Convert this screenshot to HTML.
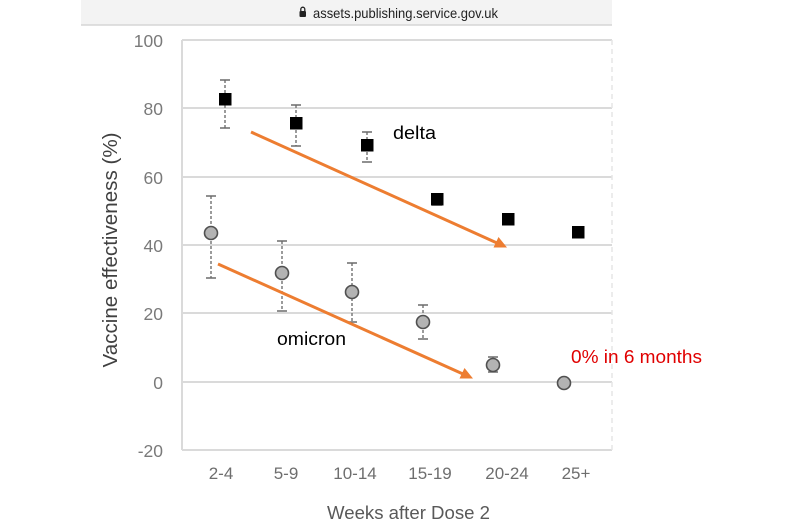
<!DOCTYPE html>
<html>
<head>
<meta charset="utf-8">
<style>
  html, body { margin: 0; padding: 0; background: #ffffff; }
  body { width: 785px; height: 527px; overflow: hidden; }
  svg { display: block; }
  text { font-family: "Liberation Sans", "DejaVu Sans", sans-serif; }
</style>
</head>
<body>
<svg width="785" height="527" viewBox="0 0 785 527" xmlns="http://www.w3.org/2000/svg">
  <!-- browser url bar -->
  <rect x="81" y="0" width="531" height="25" fill="#f3f3f3"/>
  <line x1="81" y1="25" x2="612" y2="25" stroke="#d6d6d6" stroke-width="1.5"/>
  <!-- lock icon -->
  <rect x="299.5" y="11" width="6.5" height="6" rx="1" fill="#222"/>
  <path d="M300.8 11 V9.2 a2 2 0 0 1 4 0 V11" fill="none" stroke="#222" stroke-width="1.3"/>
  <text x="313" y="18" font-size="14" fill="#222" textLength="185" lengthAdjust="spacingAndGlyphs">assets.publishing.service.gov.uk</text>

  <!-- gridlines -->
  <g stroke="#dadada" stroke-width="2">
    <line x1="182" y1="40" x2="612" y2="40"/>
    <line x1="182" y1="108" x2="612" y2="108"/>
    <line x1="182" y1="177" x2="612" y2="177"/>
    <line x1="182" y1="245" x2="612" y2="245"/>
    <line x1="182" y1="313" x2="612" y2="313"/>
    <line x1="182" y1="382" x2="612" y2="382"/>
    <line x1="182" y1="450" x2="612" y2="450"/>
    <line x1="182" y1="40" x2="182" y2="450"/>
  </g>
  <line x1="612" y1="40" x2="612" y2="450" stroke="#e6e6e6" stroke-width="1.5" stroke-dasharray="5,4"/>

  <!-- y tick labels -->
  <g font-size="17.5" fill="#7a7a7a" text-anchor="end">
    <text x="163" y="47">100</text>
    <text x="163" y="115">80</text>
    <text x="163" y="184">60</text>
    <text x="163" y="252">40</text>
    <text x="163" y="320">20</text>
    <text x="163" y="389">0</text>
    <text x="163" y="457">-20</text>
  </g>

  <!-- x tick labels -->
  <g font-size="17" fill="#6e6e6e" text-anchor="middle">
    <text x="221" y="479">2-4</text>
    <text x="286" y="479">5-9</text>
    <text x="355" y="479">10-14</text>
    <text x="430" y="479">15-19</text>
    <text x="507" y="479">20-24</text>
    <text x="576" y="479">25+</text>
  </g>

  <!-- axis titles -->
  <text transform="translate(117,250) rotate(-90)" font-size="20" fill="#404040" text-anchor="middle" textLength="235" lengthAdjust="spacingAndGlyphs">Vaccine effectiveness (%)</text>
  <text x="327" y="519" font-size="18" fill="#595959" textLength="163" lengthAdjust="spacingAndGlyphs">Weeks after Dose 2</text>

  <!-- error bars -->
  <g stroke="#7a7a7a" stroke-width="1.5" stroke-dasharray="3,2">
    <line x1="225" y1="80" x2="225" y2="128"/>
    <line x1="296" y1="105" x2="296" y2="146"/>
    <line x1="367" y1="132" x2="367" y2="162"/>
    <line x1="437" y1="194" x2="437" y2="205"/>
    <line x1="211" y1="196" x2="211" y2="278"/>
    <line x1="282" y1="241" x2="282" y2="311"/>
    <line x1="352" y1="263" x2="352" y2="322"/>
    <line x1="423" y1="305" x2="423" y2="339"/>
    <line x1="493" y1="357" x2="493" y2="372"/>
  </g>
  <g stroke="#6a6a6a" stroke-width="1.5">
    <line x1="220" y1="80" x2="230" y2="80"/><line x1="220" y1="128" x2="230" y2="128"/>
    <line x1="291" y1="105" x2="301" y2="105"/><line x1="291" y1="146" x2="301" y2="146"/>
    <line x1="362" y1="132" x2="372" y2="132"/><line x1="362" y1="162" x2="372" y2="162"/>
    <line x1="432" y1="194" x2="442" y2="194"/><line x1="432" y1="205" x2="442" y2="205"/>
    <line x1="206" y1="196" x2="216" y2="196"/><line x1="206" y1="278" x2="216" y2="278"/>
    <line x1="277" y1="241" x2="287" y2="241"/><line x1="277" y1="311" x2="287" y2="311"/>
    <line x1="347" y1="263" x2="357" y2="263"/><line x1="347" y1="322" x2="357" y2="322"/>
    <line x1="418" y1="305" x2="428" y2="305"/><line x1="418" y1="339" x2="428" y2="339"/>
    <line x1="488" y1="357" x2="498" y2="357"/><line x1="488" y1="372" x2="498" y2="372"/>
  </g>

  <!-- delta squares -->
  <g fill="#000">
    <rect x="219" y="93" width="12.5" height="12.5"/>
    <rect x="290" y="117" width="12.5" height="12.5"/>
    <rect x="361" y="139" width="12.5" height="12.5"/>
    <rect x="431" y="193" width="12.5" height="12.5"/>
    <rect x="502" y="213" width="12.5" height="12.5"/>
    <rect x="572" y="226" width="12.5" height="12.5"/>
  </g>

  <!-- omicron circles -->
  <g fill="#b3b3b3" stroke="#505050" stroke-width="1.6">
    <circle cx="211" cy="233" r="6.5"/>
    <circle cx="282" cy="273" r="6.5"/>
    <circle cx="352" cy="292" r="6.5"/>
    <circle cx="423" cy="322" r="6.5"/>
    <circle cx="493" cy="365" r="6.5"/>
    <circle cx="564" cy="383" r="6.5"/>
  </g>

  <!-- orange arrows -->
  <g stroke="#ed7d31" stroke-width="3" fill="none">
    <line x1="251" y1="132" x2="497" y2="243"/>
    <line x1="218" y1="264" x2="463" y2="374"/>
  </g>
  <g fill="#ed7d31">
    <polygon points="507,247.5 493.5,247.5 498.5,237"/>
    <polygon points="473,378.5 459.5,378.5 464.5,368"/>
  </g>

  <!-- annotations -->
  <text x="393" y="139" font-size="18" fill="#000" textLength="43" lengthAdjust="spacingAndGlyphs">delta</text>
  <text x="277" y="345" font-size="18" fill="#000" textLength="69" lengthAdjust="spacingAndGlyphs">omicron</text>
  <text x="571" y="363" font-size="18" fill="#e00000" textLength="131" lengthAdjust="spacingAndGlyphs">0% in 6 months</text>
</svg>
</body>
</html>
